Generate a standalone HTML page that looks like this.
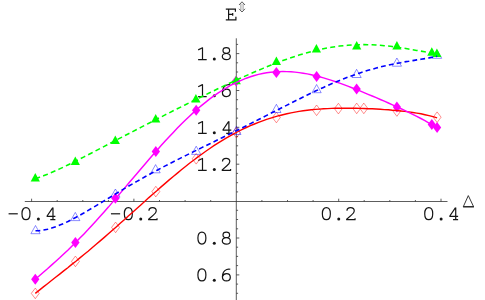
<!DOCTYPE html>
<html><head><meta charset="utf-8"><style>
html,body{margin:0;padding:0;background:#fff;}
body{width:485px;height:300px;position:relative;overflow:hidden;font-family:"Liberation Sans",sans-serif;}
</style></head><body>
<svg width="485" height="300" viewBox="0 0 485 300" style="position:absolute;left:0;top:0">
<g stroke="#333" stroke-width="0.8" fill="none">
<line x1="24.8" y1="201.5" x2="447.5" y2="201.5"/>
<line x1="236.3" y1="38.3" x2="236.3" y2="300"/>
<line x1="31.6" y1="201.5" x2="31.6" y2="198.7"/>
<line x1="57.2" y1="201.5" x2="57.2" y2="200.0"/>
<line x1="82.8" y1="201.5" x2="82.8" y2="200.0"/>
<line x1="108.4" y1="201.5" x2="108.4" y2="200.0"/>
<line x1="133.9" y1="201.5" x2="133.9" y2="198.7"/>
<line x1="159.5" y1="201.5" x2="159.5" y2="200.0"/>
<line x1="185.1" y1="201.5" x2="185.1" y2="200.0"/>
<line x1="210.7" y1="201.5" x2="210.7" y2="200.0"/>
<line x1="261.9" y1="201.5" x2="261.9" y2="200.0"/>
<line x1="287.5" y1="201.5" x2="287.5" y2="200.0"/>
<line x1="313.1" y1="201.5" x2="313.1" y2="200.0"/>
<line x1="338.7" y1="201.5" x2="338.7" y2="198.7"/>
<line x1="364.2" y1="201.5" x2="364.2" y2="200.0"/>
<line x1="389.8" y1="201.5" x2="389.8" y2="200.0"/>
<line x1="415.4" y1="201.5" x2="415.4" y2="200.0"/>
<line x1="441.0" y1="201.5" x2="441.0" y2="198.7"/>
<line x1="236.3" y1="293.3" x2="238.1" y2="293.3"/>
<line x1="236.3" y1="284.1" x2="238.1" y2="284.1"/>
<line x1="236.3" y1="274.9" x2="239.3" y2="274.9"/>
<line x1="236.3" y1="265.6" x2="238.1" y2="265.6"/>
<line x1="236.3" y1="256.4" x2="238.1" y2="256.4"/>
<line x1="236.3" y1="247.2" x2="238.1" y2="247.2"/>
<line x1="236.3" y1="238.0" x2="239.3" y2="238.0"/>
<line x1="236.3" y1="228.8" x2="238.1" y2="228.8"/>
<line x1="236.3" y1="219.5" x2="238.1" y2="219.5"/>
<line x1="236.3" y1="210.3" x2="238.1" y2="210.3"/>
<line x1="236.3" y1="191.9" x2="238.1" y2="191.9"/>
<line x1="236.3" y1="182.7" x2="238.1" y2="182.7"/>
<line x1="236.3" y1="173.4" x2="238.1" y2="173.4"/>
<line x1="236.3" y1="164.2" x2="239.3" y2="164.2"/>
<line x1="236.3" y1="155.0" x2="238.1" y2="155.0"/>
<line x1="236.3" y1="145.8" x2="238.1" y2="145.8"/>
<line x1="236.3" y1="136.6" x2="238.1" y2="136.6"/>
<line x1="236.3" y1="127.3" x2="239.3" y2="127.3"/>
<line x1="236.3" y1="118.1" x2="238.1" y2="118.1"/>
<line x1="236.3" y1="108.9" x2="238.1" y2="108.9"/>
<line x1="236.3" y1="99.7" x2="238.1" y2="99.7"/>
<line x1="236.3" y1="90.5" x2="239.3" y2="90.5"/>
<line x1="236.3" y1="81.2" x2="238.1" y2="81.2"/>
<line x1="236.3" y1="72.0" x2="238.1" y2="72.0"/>
<line x1="236.3" y1="62.8" x2="238.1" y2="62.8"/>
<line x1="236.3" y1="53.6" x2="239.3" y2="53.6"/>
<line x1="236.3" y1="44.4" x2="238.1" y2="44.4"/>
</g>
<path transform="translate(7.18 220.20)" d="M1.4 -6.4 L10.6 -6.4" fill="none" stroke="#151515" stroke-width="1.2" stroke-linejoin="round" stroke-linecap="butt"/>
<path transform="translate(19.98 220.20)" d="M6 -12.5 C3.4 -12.5 2 -9.9 2 -6.5 C2 -3.1 3.4 -0.5 6 -0.5 C8.6 -0.5 10 -3.1 10 -6.5 C10 -9.9 8.6 -12.5 6 -12.5 Z" fill="none" stroke="#151515" stroke-width="1.2" stroke-linejoin="round" stroke-linecap="butt"/>
<circle cx="38.38" cy="218.90" r="1.5" fill="#151515"/>
<path transform="translate(45.08 220.20)" d="M7.7 -12.6 L2 -4.2 L2 -3.9 L10.3 -3.9 M7.9 -12.6 L7.9 -0.5 M5.2 -0.5 L10.3 -0.5" fill="none" stroke="#151515" stroke-width="1.2" stroke-linejoin="round" stroke-linecap="butt"/>
<path transform="translate(109.54 220.20)" d="M1.4 -6.4 L10.6 -6.4" fill="none" stroke="#151515" stroke-width="1.2" stroke-linejoin="round" stroke-linecap="butt"/>
<path transform="translate(122.34 220.20)" d="M6 -12.5 C3.4 -12.5 2 -9.9 2 -6.5 C2 -3.1 3.4 -0.5 6 -0.5 C8.6 -0.5 10 -3.1 10 -6.5 C10 -9.9 8.6 -12.5 6 -12.5 Z" fill="none" stroke="#151515" stroke-width="1.2" stroke-linejoin="round" stroke-linecap="butt"/>
<circle cx="140.74" cy="218.90" r="1.5" fill="#151515"/>
<path transform="translate(146.74 220.20)" d="M2.2 -9.4 C2.2 -11.4 3.8 -12.5 5.8 -12.5 C7.9 -12.5 9.5 -11.2 9.5 -9.3 C9.5 -7.6 8.4 -6.6 6.6 -5.1 L1.9 -0.9 L1.9 -0.5 L10.3 -0.5 L10.3 -1.9" fill="none" stroke="#151515" stroke-width="1.2" stroke-linejoin="round" stroke-linecap="butt"/>
<path transform="translate(320.36 220.20)" d="M6 -12.5 C3.4 -12.5 2 -9.9 2 -6.5 C2 -3.1 3.4 -0.5 6 -0.5 C8.6 -0.5 10 -3.1 10 -6.5 C10 -9.9 8.6 -12.5 6 -12.5 Z" fill="none" stroke="#151515" stroke-width="1.2" stroke-linejoin="round" stroke-linecap="butt"/>
<circle cx="338.76" cy="218.90" r="1.5" fill="#151515"/>
<path transform="translate(344.76 220.20)" d="M2.2 -9.4 C2.2 -11.4 3.8 -12.5 5.8 -12.5 C7.9 -12.5 9.5 -11.2 9.5 -9.3 C9.5 -7.6 8.4 -6.6 6.6 -5.1 L1.9 -0.9 L1.9 -0.5 L10.3 -0.5 L10.3 -1.9" fill="none" stroke="#151515" stroke-width="1.2" stroke-linejoin="round" stroke-linecap="butt"/>
<path transform="translate(422.72 220.20)" d="M6 -12.5 C3.4 -12.5 2 -9.9 2 -6.5 C2 -3.1 3.4 -0.5 6 -0.5 C8.6 -0.5 10 -3.1 10 -6.5 C10 -9.9 8.6 -12.5 6 -12.5 Z" fill="none" stroke="#151515" stroke-width="1.2" stroke-linejoin="round" stroke-linecap="butt"/>
<circle cx="441.12" cy="218.90" r="1.5" fill="#151515"/>
<path transform="translate(447.82 220.20)" d="M7.7 -12.6 L2 -4.2 L2 -3.9 L10.3 -3.9 M7.9 -12.6 L7.9 -0.5 M5.2 -0.5 L10.3 -0.5" fill="none" stroke="#151515" stroke-width="1.2" stroke-linejoin="round" stroke-linecap="butt"/>
<path transform="translate(195.90 281.46)" d="M6 -12.5 C3.4 -12.5 2 -9.9 2 -6.5 C2 -3.1 3.4 -0.5 6 -0.5 C8.6 -0.5 10 -3.1 10 -6.5 C10 -9.9 8.6 -12.5 6 -12.5 Z" fill="none" stroke="#151515" stroke-width="1.2" stroke-linejoin="round" stroke-linecap="butt"/>
<circle cx="214.30" cy="280.16" r="1.5" fill="#151515"/>
<path transform="translate(220.30 281.46)" d="M10 -12.2 C8.6 -12.6 7.6 -12.5 6.4 -12 C3.6 -10.8 2.1 -8 2.1 -4.6 C2.1 -2 3.7 -0.5 6.1 -0.5 C8.4 -0.5 10 -2 10 -4.2 C10 -6.4 8.5 -7.9 6.2 -7.9 C4.2 -7.9 2.7 -6.6 2.2 -4.9" fill="none" stroke="#151515" stroke-width="1.2" stroke-linejoin="round" stroke-linecap="butt"/>
<path transform="translate(195.90 244.58)" d="M6 -12.5 C3.4 -12.5 2 -9.9 2 -6.5 C2 -3.1 3.4 -0.5 6 -0.5 C8.6 -0.5 10 -3.1 10 -6.5 C10 -9.9 8.6 -12.5 6 -12.5 Z" fill="none" stroke="#151515" stroke-width="1.2" stroke-linejoin="round" stroke-linecap="butt"/>
<circle cx="214.30" cy="243.28" r="1.5" fill="#151515"/>
<path transform="translate(220.30 244.58)" d="M6 -6.9 C4 -6.9 2.7 -8 2.7 -9.7 C2.7 -11.4 4 -12.5 6 -12.5 C8 -12.5 9.3 -11.4 9.3 -9.7 C9.3 -8 8 -6.9 6 -6.9 C3.7 -6.9 2 -5.7 2 -3.7 C2 -1.7 3.7 -0.5 6 -0.5 C8.3 -0.5 10 -1.7 10 -3.7 C10 -5.7 8.3 -6.9 6 -6.9 Z" fill="none" stroke="#151515" stroke-width="1.2" stroke-linejoin="round" stroke-linecap="butt"/>
<path transform="translate(196.30 170.82)" d="M1.9 -10.3 L6.2 -12.4 L6.2 -0.5 M1.8 -0.5 L10.4 -0.5" fill="none" stroke="#151515" stroke-width="1.2" stroke-linejoin="round" stroke-linecap="butt"/>
<circle cx="214.30" cy="169.52" r="1.5" fill="#151515"/>
<path transform="translate(220.30 170.82)" d="M2.2 -9.4 C2.2 -11.4 3.8 -12.5 5.8 -12.5 C7.9 -12.5 9.5 -11.2 9.5 -9.3 C9.5 -7.6 8.4 -6.6 6.6 -5.1 L1.9 -0.9 L1.9 -0.5 L10.3 -0.5 L10.3 -1.9" fill="none" stroke="#151515" stroke-width="1.2" stroke-linejoin="round" stroke-linecap="butt"/>
<path transform="translate(196.30 133.94)" d="M1.9 -10.3 L6.2 -12.4 L6.2 -0.5 M1.8 -0.5 L10.4 -0.5" fill="none" stroke="#151515" stroke-width="1.2" stroke-linejoin="round" stroke-linecap="butt"/>
<circle cx="214.30" cy="132.64" r="1.5" fill="#151515"/>
<path transform="translate(221.00 133.94)" d="M7.7 -12.6 L2 -4.2 L2 -3.9 L10.3 -3.9 M7.9 -12.6 L7.9 -0.5 M5.2 -0.5 L10.3 -0.5" fill="none" stroke="#151515" stroke-width="1.2" stroke-linejoin="round" stroke-linecap="butt"/>
<path transform="translate(196.30 97.06)" d="M1.9 -10.3 L6.2 -12.4 L6.2 -0.5 M1.8 -0.5 L10.4 -0.5" fill="none" stroke="#151515" stroke-width="1.2" stroke-linejoin="round" stroke-linecap="butt"/>
<circle cx="214.30" cy="95.76" r="1.5" fill="#151515"/>
<path transform="translate(220.30 97.06)" d="M10 -12.2 C8.6 -12.6 7.6 -12.5 6.4 -12 C3.6 -10.8 2.1 -8 2.1 -4.6 C2.1 -2 3.7 -0.5 6.1 -0.5 C8.4 -0.5 10 -2 10 -4.2 C10 -6.4 8.5 -7.9 6.2 -7.9 C4.2 -7.9 2.7 -6.6 2.2 -4.9" fill="none" stroke="#151515" stroke-width="1.2" stroke-linejoin="round" stroke-linecap="butt"/>
<path transform="translate(196.30 60.18)" d="M1.9 -10.3 L6.2 -12.4 L6.2 -0.5 M1.8 -0.5 L10.4 -0.5" fill="none" stroke="#151515" stroke-width="1.2" stroke-linejoin="round" stroke-linecap="butt"/>
<circle cx="214.30" cy="58.88" r="1.5" fill="#151515"/>
<path transform="translate(220.30 60.18)" d="M6 -6.9 C4 -6.9 2.7 -8 2.7 -9.7 C2.7 -11.4 4 -12.5 6 -12.5 C8 -12.5 9.3 -11.4 9.3 -9.7 C9.3 -8 8 -6.9 6 -6.9 C3.7 -6.9 2 -5.7 2 -3.7 C2 -1.7 3.7 -0.5 6 -0.5 C8.3 -0.5 10 -1.7 10 -3.7 C10 -5.7 8.3 -6.9 6 -6.9 Z" fill="none" stroke="#151515" stroke-width="1.2" stroke-linejoin="round" stroke-linecap="butt"/>
<path d="M225.8 9.2 L235.4 9.2 L235.4 11.8 M225.8 19.8 L235.9 19.8 L235.9 16.7 M228.6 9.2 L228.6 19.8 M228.6 14.4 L232.7 14.4 M232.7 13.1 L232.7 15.8" fill="none" stroke="#151515" stroke-width="1.2"/>
<path d="M463.3 206.7 L468.3 195.6 L473.6 206.7 Z" fill="none" stroke="#222" stroke-width="0.9"/>
<path d="M463.1 206.8 L474 206.8" fill="none" stroke="#222" stroke-width="1.2"/>
<g fill="none" stroke="#333" stroke-width="0.8"><path d="M239 5 L242 1.8 L245 5 M239 8.8 L242 12 L245 8.8"/><path d="M240.9 3.6 V10.2 M243.1 3.6 V10.2" stroke="#555" stroke-width="0.6"/></g>
<polygon points="35.3,288.1 39.2,293.4 35.3,298.7 31.3,293.4" fill="none" stroke="#f00" stroke-width="0.45"/>
<polygon points="75.4,256.1 79.4,261.4 75.4,266.7 71.5,261.4" fill="none" stroke="#f00" stroke-width="0.45"/>
<polygon points="115.6,222.1 119.5,227.4 115.6,232.7 111.6,227.4" fill="none" stroke="#f00" stroke-width="0.45"/>
<polygon points="155.8,186.3 159.8,191.6 155.8,196.9 151.9,191.6" fill="none" stroke="#f00" stroke-width="0.45"/>
<polygon points="196.2,153.5 200.1,158.8 196.2,164.1 192.2,158.8" fill="none" stroke="#f00" stroke-width="0.45"/>
<polygon points="236.4,127.3 240.3,132.6 236.4,137.9 232.5,132.6" fill="none" stroke="#f00" stroke-width="0.45"/>
<polygon points="276.4,112.2 280.3,117.5 276.4,122.8 272.4,117.5" fill="none" stroke="#f00" stroke-width="0.45"/>
<polygon points="316.6,105.0 320.6,110.3 316.6,115.6 312.7,110.3" fill="none" stroke="#f00" stroke-width="0.45"/>
<polygon points="338.4,103.3 342.3,108.6 338.4,113.9 334.4,108.6" fill="none" stroke="#f00" stroke-width="0.45"/>
<polygon points="356.7,103.1 360.6,108.4 356.7,113.7 352.8,108.4" fill="none" stroke="#f00" stroke-width="0.45"/>
<polygon points="363.8,103.1 367.8,108.4 363.8,113.7 359.9,108.4" fill="none" stroke="#f00" stroke-width="0.45"/>
<polygon points="396.9,105.7 400.8,111.0 396.9,116.3 392.9,111.0" fill="none" stroke="#f00" stroke-width="0.45"/>
<polygon points="437.1,111.9 441.1,117.2 437.1,122.5 433.2,117.2" fill="none" stroke="#f00" stroke-width="0.45"/>
<polygon points="35.5,225.5 30.9,233.7 40.1,233.7" fill="none" stroke="#00f" stroke-width="0.45"/>
<polygon points="75.3,212.4 70.7,220.6 79.9,220.6" fill="none" stroke="#00f" stroke-width="0.45"/>
<polygon points="115.4,189.0 110.8,197.2 120.0,197.2" fill="none" stroke="#00f" stroke-width="0.45"/>
<polygon points="155.6,164.6 151.0,172.8 160.2,172.8" fill="none" stroke="#00f" stroke-width="0.45"/>
<polygon points="196.2,146.2 191.6,154.4 200.8,154.4" fill="none" stroke="#00f" stroke-width="0.45"/>
<polygon points="236.4,126.3 231.8,134.5 241.0,134.5" fill="none" stroke="#00f" stroke-width="0.45"/>
<polygon points="276.4,104.3 271.8,112.5 281.0,112.5" fill="none" stroke="#00f" stroke-width="0.45"/>
<polygon points="316.6,84.5 312.0,92.7 321.2,92.7" fill="none" stroke="#00f" stroke-width="0.45"/>
<polygon points="356.6,69.3 352.0,77.5 361.2,77.5" fill="none" stroke="#00f" stroke-width="0.45"/>
<polygon points="396.9,58.0 392.3,66.2 401.5,66.2" fill="none" stroke="#00f" stroke-width="0.45"/>
<polygon points="437.1,50.1 432.5,58.3 441.7,58.3" fill="none" stroke="#00f" stroke-width="0.45"/>
<polygon points="35.3,273.7 39.4,279.2 35.3,284.7 31.1,279.2" fill="#f0f" stroke="none" stroke-width="0"/>
<polygon points="75.4,237.1 79.6,242.6 75.4,248.1 71.2,242.6" fill="#f0f" stroke="none" stroke-width="0"/>
<polygon points="115.4,192.7 119.6,198.2 115.4,203.7 111.2,198.2" fill="#f0f" stroke="none" stroke-width="0"/>
<polygon points="155.8,146.1 160.0,151.6 155.8,157.1 151.7,151.6" fill="#f0f" stroke="none" stroke-width="0"/>
<polygon points="196.2,104.7 200.3,110.2 196.2,115.7 192.0,110.2" fill="#f0f" stroke="none" stroke-width="0"/>
<polygon points="236.2,75.4 240.3,80.9 236.2,86.4 232.0,80.9" fill="#f0f" stroke="none" stroke-width="0"/>
<polygon points="276.4,66.9 280.5,72.4 276.4,77.9 272.2,72.4" fill="#f0f" stroke="none" stroke-width="0"/>
<polygon points="316.6,71.0 320.8,76.5 316.6,82.0 312.5,76.5" fill="#f0f" stroke="none" stroke-width="0"/>
<polygon points="356.6,83.4 360.8,88.9 356.6,94.4 352.5,88.9" fill="#f0f" stroke="none" stroke-width="0"/>
<polygon points="396.9,101.4 401.0,106.9 396.9,112.4 392.8,106.9" fill="#f0f" stroke="none" stroke-width="0"/>
<polygon points="431.8,119.1 435.9,124.6 431.8,130.1 427.7,124.6" fill="#f0f" stroke="none" stroke-width="0"/>
<polygon points="437.1,121.9 441.2,127.4 437.1,132.9 433.0,127.4" fill="#f0f" stroke="none" stroke-width="0"/>
<polygon points="35.3,173.0 30.7,181.5 39.9,181.5" fill="#0f0" stroke="none" stroke-width="0"/>
<polygon points="75.3,156.4 70.7,164.9 79.9,164.9" fill="#0f0" stroke="none" stroke-width="0"/>
<polygon points="115.3,135.5 110.7,144.0 119.9,144.0" fill="#0f0" stroke="none" stroke-width="0"/>
<polygon points="155.7,114.1 151.1,122.6 160.3,122.6" fill="#0f0" stroke="none" stroke-width="0"/>
<polygon points="195.9,94.1 191.3,102.6 200.5,102.6" fill="#0f0" stroke="none" stroke-width="0"/>
<polygon points="236.2,75.8 231.6,84.3 240.8,84.3" fill="#0f0" stroke="none" stroke-width="0"/>
<polygon points="276.4,56.4 271.8,64.9 281.0,64.9" fill="#0f0" stroke="none" stroke-width="0"/>
<polygon points="316.4,44.1 311.8,52.6 321.0,52.6" fill="#0f0" stroke="none" stroke-width="0"/>
<polygon points="356.7,41.0 352.1,49.5 361.3,49.5" fill="#0f0" stroke="none" stroke-width="0"/>
<polygon points="396.9,41.0 392.3,49.5 401.5,49.5" fill="#0f0" stroke="none" stroke-width="0"/>
<polygon points="431.8,47.2 427.2,55.7 436.4,55.7" fill="#0f0" stroke="none" stroke-width="0"/>
<polygon points="436.9,48.4 432.3,56.9 441.5,56.9" fill="#0f0" stroke="none" stroke-width="0"/>
<path d="M35.3 293.4 L39.4 290.1 L43.4 286.9 L47.5 283.7 L51.5 280.5 L55.6 277.3 L59.7 274.1 L63.7 270.9 L67.8 267.7 L71.8 264.4 L75.9 261.2 L79.9 257.9 L84.0 254.5 L88.1 251.2 L92.1 247.8 L96.2 244.3 L100.2 240.9 L104.3 237.4 L108.4 233.8 L112.4 230.3 L116.5 226.7 L120.5 223.1 L124.6 219.5 L128.6 215.8 L132.7 212.2 L136.8 208.5 L140.8 204.9 L144.9 201.3 L148.9 197.6 L153.0 194.0 L157.1 190.5 L161.1 186.9 L165.2 183.4 L169.2 179.9 L173.3 176.5 L177.4 173.1 L181.4 169.8 L185.5 166.5 L189.5 163.3 L193.6 160.2 L197.6 157.1 L201.7 154.2 L205.8 151.3 L209.8 148.5 L213.9 145.7 L217.9 143.1 L222.0 140.6 L226.1 138.2 L230.1 135.8 L234.2 133.6 L238.2 131.5 L242.3 129.4 L246.3 127.5 L250.4 125.7 L254.5 124.0 L258.5 122.3 L262.6 120.8 L266.6 119.4 L270.7 118.1 L274.8 116.9 L278.8 115.7 L282.9 114.7 L286.9 113.8 L291.0 112.9 L295.0 112.1 L299.1 111.4 L303.2 110.8 L307.2 110.3 L311.3 109.8 L315.3 109.4 L319.4 109.1 L323.5 108.8 L327.5 108.6 L331.6 108.4 L335.6 108.3 L339.7 108.2 L343.8 108.2 L347.8 108.2 L351.9 108.2 L355.9 108.3 L360.0 108.4 L364.0 108.5 L368.1 108.7 L372.2 108.8 L376.2 109.0 L380.3 109.3 L384.3 109.6 L388.4 109.8 L392.5 110.2 L396.5 110.5 L400.6 111.0 L404.6 111.4 L408.7 111.9 L412.7 112.5 L416.8 113.1 L420.9 113.8 L424.9 114.7 L429.0 115.6 L433.0 116.6 L437.1 117.8" fill="none" stroke="#f00" stroke-width="1.4"/>
<path d="M35.3 279.1 L39.4 275.7 L43.4 272.2 L47.5 268.7 L51.5 265.1 L55.6 261.5 L59.7 257.8 L63.7 254.0 L67.8 250.2 L71.8 246.2 L75.9 242.2 L79.9 238.1 L84.0 233.9 L88.1 229.6 L92.1 225.2 L96.2 220.8 L100.2 216.3 L104.3 211.7 L108.4 207.1 L112.4 202.4 L116.5 197.7 L120.5 192.9 L124.6 188.1 L128.6 183.3 L132.7 178.5 L136.8 173.7 L140.8 169.0 L144.9 164.2 L148.9 159.5 L153.0 154.8 L157.1 150.2 L161.1 145.6 L165.2 141.1 L169.2 136.7 L173.3 132.4 L177.4 128.1 L181.4 124.0 L185.5 120.0 L189.5 116.2 L193.6 112.4 L197.6 108.8 L201.7 105.4 L205.8 102.1 L209.8 98.9 L213.9 95.9 L217.9 93.1 L222.0 90.5 L226.1 88.0 L230.1 85.7 L234.2 83.5 L238.2 81.6 L242.3 79.8 L246.3 78.2 L250.4 76.8 L254.5 75.5 L258.5 74.4 L262.6 73.5 L266.6 72.8 L270.7 72.3 L274.8 71.9 L278.8 71.6 L282.9 71.5 L286.9 71.6 L291.0 71.8 L295.0 72.1 L299.1 72.6 L303.2 73.2 L307.2 73.9 L311.3 74.8 L315.3 75.7 L319.4 76.7 L323.5 77.9 L327.5 79.1 L331.6 80.4 L335.6 81.7 L339.7 83.1 L343.8 84.6 L347.8 86.1 L351.9 87.7 L355.9 89.3 L360.0 90.9 L364.0 92.6 L368.1 94.3 L372.2 96.0 L376.2 97.7 L380.3 99.5 L384.3 101.2 L388.4 103.0 L392.5 104.8 L396.5 106.6 L400.6 108.5 L404.6 110.4 L408.7 112.3 L412.7 114.3 L416.8 116.3 L420.9 118.5 L424.9 120.7 L429.0 123.0 L433.0 125.5 L437.1 128.1" fill="none" stroke="#f0f" stroke-width="1.45"/>
<path d="M35.5 230.8 L39.6 230.6 L43.6 230.0 L47.7 229.2 L51.7 228.0 L55.8 226.7 L59.8 225.1 L63.9 223.4 L68.0 221.5 L72.0 219.4 L76.1 217.3 L80.1 215.1 L84.2 212.8 L88.2 210.4 L92.3 208.0 L96.3 205.6 L100.4 203.1 L104.5 200.6 L108.5 198.2 L112.6 195.7 L116.6 193.3 L120.7 190.8 L124.7 188.4 L128.8 186.0 L132.9 183.7 L136.9 181.4 L141.0 179.1 L145.0 176.8 L149.1 174.6 L153.1 172.3 L157.2 170.2 L161.3 168.0 L165.3 165.9 L169.4 163.8 L173.4 161.7 L177.5 159.7 L181.5 157.6 L185.6 155.6 L189.6 153.6 L193.7 151.6 L197.8 149.6 L201.8 147.6 L205.9 145.7 L209.9 143.7 L214.0 141.7 L218.0 139.7 L222.1 137.7 L226.2 135.7 L230.2 133.7 L234.3 131.7 L238.3 129.7 L242.4 127.7 L246.4 125.7 L250.5 123.6 L254.6 121.6 L258.6 119.5 L262.7 117.5 L266.7 115.4 L270.8 113.3 L274.8 111.3 L278.9 109.2 L283.0 107.1 L287.0 105.1 L291.1 103.0 L295.1 101.0 L299.2 99.0 L303.2 97.0 L307.3 95.0 L311.3 93.0 L315.4 91.1 L319.5 89.2 L323.5 87.4 L327.6 85.5 L331.6 83.8 L335.7 82.0 L339.7 80.4 L343.8 78.8 L347.9 77.2 L351.9 75.7 L356.0 74.3 L360.0 72.9 L364.1 71.6 L368.1 70.3 L372.2 69.2 L376.3 68.1 L380.3 67.0 L384.4 66.0 L388.4 65.1 L392.5 64.2 L396.5 63.4 L400.6 62.7 L404.6 61.9 L408.7 61.3 L412.8 60.6 L416.8 59.9 L420.9 59.3 L424.9 58.6 L429.0 57.9 L433.0 57.1 L437.1 56.3" fill="none" stroke="#00f" stroke-width="1.6" stroke-dasharray="4.8 3.2"/>
<path d="M35.3 178.7 L39.4 177.3 L43.4 175.8 L47.5 174.2 L51.5 172.5 L55.6 170.7 L59.6 168.9 L63.7 167.0 L67.8 165.0 L71.8 163.0 L75.9 161.0 L79.9 159.0 L84.0 156.9 L88.0 154.8 L92.1 152.7 L96.1 150.6 L100.2 148.5 L104.3 146.4 L108.3 144.3 L112.4 142.1 L116.4 140.0 L120.5 137.9 L124.5 135.8 L128.6 133.7 L132.7 131.6 L136.7 129.5 L140.8 127.4 L144.8 125.3 L148.9 123.2 L152.9 121.1 L157.0 119.0 L161.1 117.0 L165.1 114.9 L169.2 112.9 L173.2 110.8 L177.3 108.8 L181.3 106.8 L185.4 104.7 L189.4 102.7 L193.5 100.7 L197.6 98.7 L201.6 96.7 L205.7 94.7 L209.7 92.7 L213.8 90.8 L217.8 88.8 L221.9 86.9 L226.0 84.9 L230.0 83.0 L234.1 81.1 L238.1 79.3 L242.2 77.4 L246.2 75.6 L250.3 73.8 L254.4 72.0 L258.4 70.3 L262.5 68.6 L266.5 66.9 L270.6 65.3 L274.6 63.7 L278.7 62.1 L282.8 60.6 L286.8 59.2 L290.9 57.8 L294.9 56.4 L299.0 55.1 L303.0 53.9 L307.1 52.8 L311.1 51.7 L315.2 50.6 L319.3 49.7 L323.3 48.8 L327.4 48.0 L331.4 47.3 L335.5 46.7 L339.5 46.1 L343.6 45.7 L347.7 45.3 L351.7 45.0 L355.8 44.8 L359.8 44.7 L363.9 44.6 L367.9 44.7 L372.0 44.8 L376.1 45.0 L380.1 45.3 L384.2 45.7 L388.2 46.1 L392.3 46.6 L396.3 47.1 L400.4 47.7 L404.4 48.3 L408.5 49.0 L412.6 49.7 L416.6 50.4 L420.7 51.1 L424.7 51.7 L428.8 52.4 L432.8 53.0 L436.9 53.6" fill="none" stroke="#0f0" stroke-width="1.55" stroke-dasharray="5 3.3"/>
</svg>
</body></html>
